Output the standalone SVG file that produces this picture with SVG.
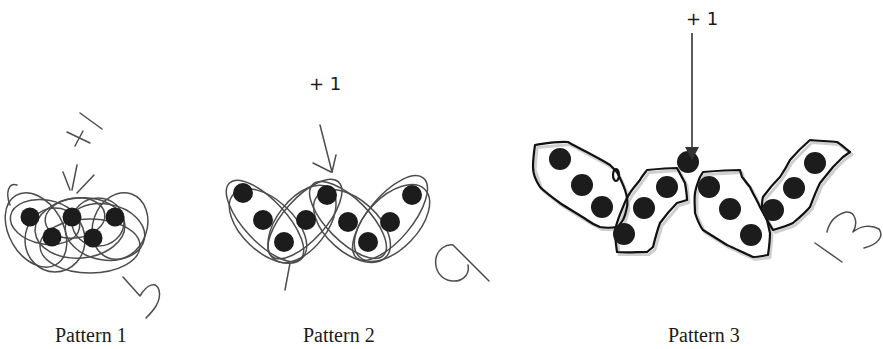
<svg xmlns="http://www.w3.org/2000/svg" width="883" height="349" viewBox="0 0 883 349">
<style>
.bg{fill:#ffffff}
.dot{fill:#1c1c1c}
.pen{fill:none;stroke:#4d4d4d;stroke-width:1.5;stroke-linecap:round;stroke-linejoin:round}
.blob{fill:none;stroke:#111111;stroke-width:2.2;stroke-linejoin:round}
.shadow{fill:none;stroke:#cfcfcf;stroke-width:3;stroke-linejoin:round}
.lbl{font-family:"Liberation Serif","Times New Roman",serif;font-size:20px;fill:#1a1a1a}
.plus{font-family:"DejaVu Sans","Liberation Sans",sans-serif;font-size:18px;fill:#1a1a1a}
.arrow{stroke:#333333;stroke-width:1.6;fill:none}
</style>
<rect class="bg" x="0" y="0" width="883" height="349"/>

<g id="pattern1">
  <g class="pen">
    <ellipse cx="45" cy="222" rx="35" ry="22" transform="rotate(10 45 222)"/>
    <ellipse cx="55" cy="240" rx="30" ry="32"/>
    <ellipse cx="80" cy="228" rx="45" ry="30" transform="rotate(-5 80 228)"/>
    <ellipse cx="105" cy="232" rx="40" ry="28" transform="rotate(10 105 232)"/>
    <ellipse cx="90" cy="246" rx="50" ry="27"/>
    <ellipse cx="36" cy="230" rx="27" ry="40" transform="rotate(-30 36 230)"/>
    <ellipse cx="120" cy="226" rx="27" ry="34" transform="rotate(20 120 226)"/>
    <ellipse cx="75" cy="218" rx="30" ry="20" transform="rotate(-8 75 218)"/>
    <ellipse cx="98" cy="222" rx="26" ry="24"/>
    <path d="M10,205 C5,192 9,182 17,185"/>
    <path d="M63,172 L70,190"/>
    <path d="M77,165 L72,190"/>
    <path d="M94,175 L77,193"/>
    <path d="M67,132 L90,143"/>
    <path d="M75,146 L83,131"/>
    <path d="M80,113 L102,129"/>
    <path d="M123,277 L140,296 C147,284 156,281 159,290 C162,302 152,312 146,318"/>
  </g>
  <circle class="dot" cx="30" cy="217" r="9.5"/>
  <circle class="dot" cx="72" cy="217" r="9.5"/>
  <circle class="dot" cx="115" cy="217" r="9.5"/>
  <circle class="dot" cx="52" cy="237" r="9.5"/>
  <circle class="dot" cx="93" cy="238" r="9.5"/>
  <text class="lbl" x="55" y="342">Pattern 1</text>
</g>

<g id="pattern2">
  <g class="pen">
    <ellipse cx="265" cy="221" rx="52" ry="21" transform="rotate(47 265 221)"/>
    <ellipse cx="268" cy="226" rx="47" ry="26" transform="rotate(43 268 226)"/>
    <ellipse cx="305" cy="219" rx="50" ry="21" transform="rotate(-48 305 219)"/>
    <ellipse cx="302" cy="224" rx="45" ry="25" transform="rotate(-52 302 224)"/>
    <ellipse cx="348" cy="220" rx="50" ry="21" transform="rotate(45 348 220)"/>
    <ellipse cx="352" cy="226" rx="46" ry="26" transform="rotate(42 352 226)"/>
    <ellipse cx="390" cy="218" rx="52" ry="22" transform="rotate(-50 390 218)"/>
    <ellipse cx="392" cy="223" rx="47" ry="26" transform="rotate(-46 392 223)"/>
    <path d="M290,263 L285,290"/>
    <path d="M320,125 L332,172"/>
    <path d="M313,163 L331,172"/>
    <path d="M336,155 L332,172"/>
    <path d="M468,265 C470,275 462,282 452,281 C441,280 434,270 436,258 C438,249 446,244 453,245 L489,281"/>
  </g>
  <circle class="dot" cx="243" cy="193" r="10"/>
  <circle class="dot" cx="263" cy="220" r="10"/>
  <circle class="dot" cx="284" cy="242" r="10"/>
  <circle class="dot" cx="306" cy="220" r="10"/>
  <circle class="dot" cx="327" cy="195" r="10"/>
  <circle class="dot" cx="348" cy="222" r="10"/>
  <circle class="dot" cx="368" cy="242" r="10"/>
  <circle class="dot" cx="390" cy="222" r="10"/>
  <circle class="dot" cx="412" cy="195" r="10"/>
  <text class="plus" x="309" y="90">+ 1</text>
  <text class="lbl" x="303" y="342">Pattern 2</text>
</g>

<g id="pattern3">
  <g transform="translate(2 2.5)">
    <path class="shadow" d="M535,145 L568,142 L610,165 L617,172 L625,190 L627,207 L623,220 L617,227 L600,227 L587,220 L560,203 L540,187 L533,167 Z"/>
    <path class="shadow" d="M647,170 L677,168 L685,183 L687,200 L677,203 L660,223 L653,247 L647,252 L617,252 L615,230 L623,207 L630,193 L640,180 Z"/>
    <path class="shadow" d="M703,172 L740,170 L742,177 L750,187 L760,207 L767,220 L770,233 L768,255 L753,257 L727,245 L703,230 L695,213 L695,193 L700,177 Z"/>
    <path class="shadow" d="M810,140 L837,142 L850,152 L843,157 L833,167 L820,183 L810,207 L793,223 L773,230 L767,220 L762,207 L763,197 L780,177 L790,160 Z"/>
  </g>
  <path class="blob" d="M535,145 C548,143 558,141 568,142 C582,150 597,157 610,165 L617,172 C620,178 623,184 625,190 C627,196 628,202 627,207 C626,212 625,216 623,220 C621,223 619,226 617,227 C611,228 605,228 600,227 C595,225 591,223 587,220 C578,214 569,209 560,203 C553,198 546,193 540,187 C536,181 533,174 533,167 C533,159 534,152 535,145 Z"/>
  <ellipse class="blob" cx="616" cy="175" rx="3" ry="6" stroke-width="1.8"/>
  <path class="blob" d="M647,170 C657,169 667,168 677,168 L685,183 C686,189 687,195 687,200 L677,203 C671,209 665,216 660,223 C657,231 655,239 653,247 L647,252 C637,252 627,253 617,252 C616,245 615,237 615,230 C617,222 620,214 623,207 C625,202 627,197 630,193 C633,188 637,184 640,180 C642,176 645,173 647,170 Z"/>
  <path class="blob" d="M703,172 C715,171 728,170 740,170 L742,177 C745,180 747,184 750,187 C753,194 757,200 760,207 C762,211 765,216 767,220 C768,224 769,229 770,233 C770,240 769,248 768,255 C763,256 758,257 753,257 C744,253 736,249 727,245 C719,240 711,235 703,230 C699,225 697,219 695,213 C695,206 694,200 695,193 C696,187 698,182 700,177 Z"/>
  <path class="blob" d="M810,140 C819,141 828,141 837,142 C842,145 846,149 850,152 L843,157 C840,160 836,164 833,167 C829,172 824,178 820,183 C816,191 813,199 810,207 C805,213 799,218 793,223 C787,226 780,228 773,230 C771,227 769,223 767,220 C765,216 763,211 762,207 C762,204 762,200 763,197 C768,190 774,183 780,177 C784,171 787,166 790,160 C796,153 803,146 810,140 Z"/>
  <circle class="dot" cx="560" cy="159" r="11"/>
  <circle class="dot" cx="582" cy="185" r="11"/>
  <circle class="dot" cx="602" cy="207" r="11"/>
  <circle class="dot" cx="667" cy="187" r="11"/>
  <circle class="dot" cx="644" cy="208" r="11"/>
  <circle class="dot" cx="624" cy="234" r="11"/>
  <circle class="dot" cx="709" cy="187" r="11"/>
  <circle class="dot" cx="730" cy="209" r="11"/>
  <circle class="dot" cx="751" cy="235" r="11"/>
  <circle class="dot" cx="815" cy="163" r="11"/>
  <circle class="dot" cx="794" cy="188" r="11"/>
  <circle class="dot" cx="773" cy="210" r="11"/>
  <circle class="dot" cx="688" cy="162" r="11"/>
  <path class="pen" d="M815,243 L842,262"/>
  <path class="pen" d="M827,232 C829,223 835,215 846,212 C856,211 858,224 853,232 C860,226 871,224 879,229 C884,236 879,244 864,248"/>
  <text class="plus" x="686" y="25">+ 1</text>
  <text class="lbl" x="668" y="342">Pattern 3</text>
</g>

<g id="connectors">
  <line class="arrow" x1="692" y1="33" x2="692" y2="150"/>
  <polygon points="685,147 699,147 692,160" fill="#333333"/>
</g>
</svg>
